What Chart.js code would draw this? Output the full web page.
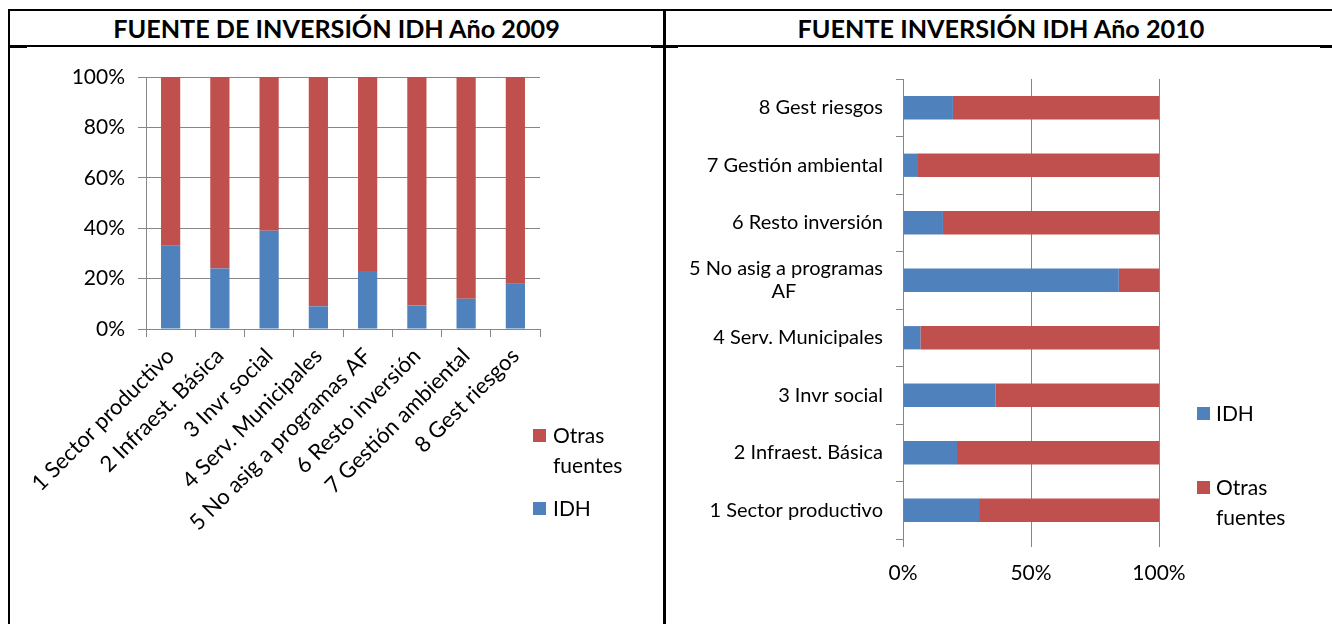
<!DOCTYPE html>
<html><head><meta charset="utf-8">
<script src="https://cdn.jsdelivr.net/npm/chart.js@4.4.1/dist/chart.umd.min.js"></script>
<style>
html,body{margin:0;padding:0;background:#fff;width:1332px;height:624px;overflow:hidden;font-family:Lato,"Open Sans",sans-serif;color:#000;}
.line{position:absolute;background:#000;}
.title{position:absolute;top:11px;height:34px;line-height:35px;text-align:center;font-weight:bold;font-size:25.2px;white-space:nowrap;}
.cv{position:absolute;}
.sw{position:absolute;width:13px;height:13px;}
.lt{position:absolute;font-size:21px;line-height:30px;white-space:nowrap;}
</style></head><body>
<div class="line" style="left:8px;top:9px;width:1324px;height:2px"></div>
<div class="line" style="left:8px;top:9px;width:2px;height:615px"></div>
<div class="line" style="left:663px;top:9px;width:3px;height:615px"></div>
<div class="line" style="left:10px;top:45px;width:1322px;height:2px"></div>
<div class="line" style="left:10px;top:45px;width:17px;height:3px"></div>
<div class="line" style="left:651px;top:45px;width:27px;height:3px"></div>
<div class="line" style="left:1320px;top:45px;width:12px;height:3px"></div>

<div class="title" style="left:10px;width:653px">FUENTE DE INVERSIÓN IDH Año 2009</div>
<div class="title" style="left:668px;width:666px">FUENTE INVERSIÓN IDH Año 2010</div>

<canvas id="c1" class="cv" width="653" height="577" style="left:10px;top:47px;width:653px;height:577px"></canvas>
<canvas id="c2" class="cv" width="666" height="577" style="left:666px;top:47px;width:666px;height:577px"></canvas>

<div class="sw" style="left:533px;top:429px;background:#C0504D"></div>
<div class="lt" style="left:553px;top:420px">Otras<br>fuentes</div>
<div class="sw" style="left:533px;top:502px;background:#4F81BD"></div>
<div class="lt" style="left:553px;top:493px">IDH</div>

<div class="sw" style="left:1197px;top:407px;background:#4F81BD"></div>
<div class="lt" style="left:1216px;top:398px">IDH</div>
<div class="sw" style="left:1197px;top:481px;background:#C0504D"></div>
<div class="lt" style="left:1216px;top:472px">Otras<br>fuentes</div>

<script>
const categories = ['1 Sector productivo','2 Infraest. Básica','3 Invr social','4 Serv. Municipales','5 No asig a programas AF','6 Resto inversión','7 Gestión ambiental','8 Gest riesgos'];
const seriesNames = ['IDH','Otras fuentes'];
const idh2009   = [33, 24, 39, 9, 23, 9.3, 12, 18];
const otras2009 = [67, 76, 61, 91, 77, 90.7, 88, 82];
const idh2010   = [29.7, 21.1, 36.2, 6.8, 84.3, 15.6, 5.5, 19.5];
const otras2010 = [70.3, 78.9, 63.8, 93.2, 15.7, 84.4, 94.5, 80.5];
const ticks2009 = ['0%','20%','40%','60%','80%','100%'];
const ticks2010 = ['0%','50%','100%'];

const BLUE = '#4F81BD', RED = '#C0504D', GRID = '#868686';
const FONT = 'Lato, "Open Sans", sans-serif';
Chart.defaults.font.family = FONT;
Chart.defaults.color = '#000';

new Chart(document.getElementById('c1'), {
  type: 'bar',
  data: {
    labels: categories,
    datasets: [
      {label: seriesNames[0], data: idh2009, backgroundColor: BLUE, categoryPercentage: 1, barPercentage: 0.39},
      {label: seriesNames[1], data: otras2009, backgroundColor: RED, categoryPercentage: 1, barPercentage: 0.39}
    ]
  },
  options: {
    responsive: false, animation: false, devicePixelRatio: 1,
    layout: {padding: {left: 0, right: 123, top: 30, bottom: 0}},
    plugins: {legend: {display: false}, tooltip: {enabled: false}},
    scales: {
      x: {
        stacked: true,
        grid: {drawOnChartArea: false, tickLength: 8, color: GRID, offset: true},
        border: {display: true, color: GRID},
        ticks: {minRotation: 45, maxRotation: 45, autoSkip: false, font: {size: 22}, color: '#000', padding: 6},
        afterFit: s => { s.height = 295; }
      },
      y: {
        stacked: true, min: 0, max: 100,
        grid: {color: GRID, tickLength: 8},
        border: {color: GRID},
        ticks: {stepSize: 20, font: {size: 21}, color: '#000', padding: 13,
          callback: (v) => ticks2009[Math.round(v / 20)]},
        afterFit: s => { s.width = 136; }
      }
    }
  }
});

const PAD_AF = '\u00A0'.repeat(17);
new Chart(document.getElementById('c2'), {
  type: 'bar',
  data: {
    labels: categories,
    datasets: [
      {label: seriesNames[0], data: idh2010, backgroundColor: BLUE, categoryPercentage: 1, barPercentage: 0.405},
      {label: seriesNames[1], data: otras2010, backgroundColor: RED, categoryPercentage: 1, barPercentage: 0.405}
    ]
  },
  options: {
    indexAxis: 'y',
    responsive: false, animation: false, devicePixelRatio: 1,
    layout: {padding: {left: 0, right: 173, top: 32, bottom: 0}},
    plugins: {legend: {display: false}, tooltip: {enabled: false}},
    scales: {
      x: {
        stacked: true, min: 0, max: 100,
        grid: {color: GRID, tickLength: 8},
        border: {display: false},
        ticks: {stepSize: 50, font: {size: 21}, color: '#000', padding: 14,
          callback: (v) => ticks2010[Math.round(v / 50)]},
        afterFit: s => { s.height = 85; }
      },
      y: {
        stacked: true, reverse: true,
        grid: {drawOnChartArea: false, tickLength: 7, color: GRID, offset: true},
        border: {display: true, color: GRID},
        ticks: {font: {size: 20, lineHeight: 1.15}, color: '#000', padding: 13, autoSkip: false,
          callback: function(v, i) {
            const l = categories[i];
            if (l === '5 No asig a programas AF') return ['5 No asig a programas', 'AF' + PAD_AF];
            return l;
          }},
        afterFit: s => { s.width = 237; }
      }
    }
  }
});
</script>
</body></html>
